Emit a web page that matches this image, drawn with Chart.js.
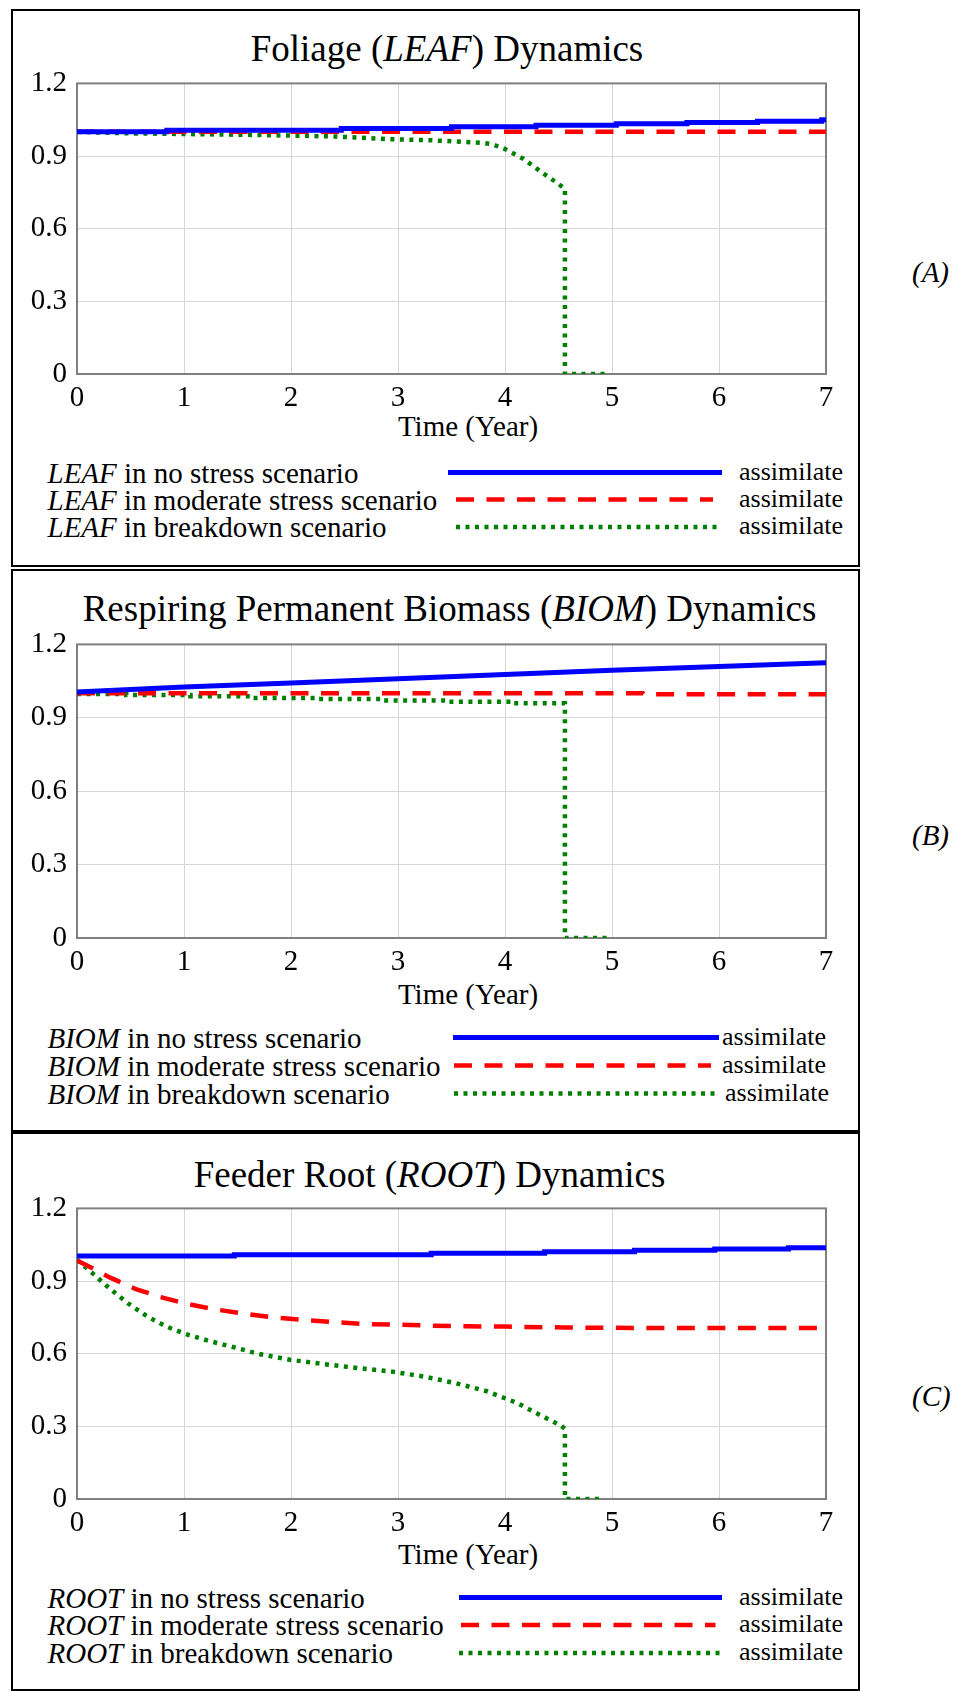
<!DOCTYPE html>
<html><head><meta charset="utf-8">
<script src="https://cdn.jsdelivr.net/npm/chart.js@4.4.1/dist/chart.umd.min.js"></script>
<style>
html,body{margin:0;padding:0;background:#fff;}
#page{position:relative;width:965px;height:1691px;overflow:hidden;font-family:'Liberation Serif','Times New Roman',serif;color:#000;}
.frame{position:absolute;box-sizing:border-box;border:2px solid #000;}
.t{position:absolute;white-space:nowrap;line-height:1;}
canvas{position:absolute;left:0;}
svg{position:absolute;left:0;top:0;}
</style></head><body><div id="page"></div>
<script>
// ---------- DATA ----------
const timeTicks = [0, 1, 2, 3, 4, 5, 6, 7];
const timeTickLabels = ['0', '1', '2', '3', '4', '5', '6', '7'];
const valueTicks = [0, 0.3, 0.6, 0.9, 1.2];
const valueTickLabels = ['0', '0.3', '0.6', '0.9', '1.2'];

const panelVariables = ['LEAF', 'BIOM', 'ROOT'];
const panelTitlesBefore = ['Foliage (', 'Respiring Permanent Biomass (', 'Feeder Root ('];
const panelTitlesAfter = [') Dynamics', ') Dynamics', ') Dynamics'];
const panelTags = ['(A)', '(B)', '(C)'];
const scenarioNames = ['in no stress scenario', 'in moderate stress scenario', 'in breakdown scenario'];
const unitName = 'assimilate';
const axisTitle = 'Time (Year)';

// Panel A: LEAF
const leafNoStressTime  = [0, 0.84, 2.47, 3.5, 4.29, 5.04, 5.7, 6.36, 6.96, 7];
const leafNoStressValue = [1.0, 1.007, 1.014, 1.021, 1.027, 1.033, 1.039, 1.044, 1.05, 1.05];
const leafModerateTime  = [0, 7];
const leafModerateValue = [1.0, 1.0];
const leafBreakdownTime  = [0, 0.46, 1.0, 1.7, 2.4, 2.96, 3.31, 3.77, 3.88, 4.0, 4.17, 4.34, 4.49, 4.56, 4.56, 4.97];
const leafBreakdownValue = [1.0, 0.994, 0.991, 0.987, 0.981, 0.969, 0.965, 0.955, 0.949, 0.929, 0.889, 0.834, 0.788, 0.765, 0, 0];

// Panel B: BIOM
const biomNoStressTime  = [0, 1, 2, 3, 4, 5, 6, 7];
const biomNoStressValue = [1.005, 1.026, 1.042, 1.06, 1.077, 1.094, 1.11, 1.125];
const biomModerateTime  = [0, 5.29, 5.3, 7];
const biomModerateValue = [1.0, 1.0, 0.996, 0.996];
const biomBreakdownTime  = [0, 0.46, 1.06, 1.64, 2.24, 2.85, 3.48, 4.08, 4.56, 4.97];
const biomBreakdownValue = [0.997, 0.993, 0.988, 0.981, 0.977, 0.971, 0.966, 0.959, 0, 0];

// Panel C: ROOT
const rootNoStressTime  = [0, 1.47, 3.31, 4.37, 5.21, 5.96, 6.65, 7];
const rootNoStressValue = [1.003, 1.009, 1.015, 1.021, 1.027, 1.032, 1.038, 1.038];
const rootModerateTime  = [0, 0.14, 0.31, 0.55, 0.78, 1.01, 1.29, 1.58, 1.81, 2.10, 2.39, 2.68, 2.96, 3.31, 3.65, 4.0, 4.57, 5.5, 7];
const rootModerateValue = [0.985, 0.954, 0.914, 0.867, 0.834, 0.807, 0.783, 0.764, 0.751, 0.740, 0.731, 0.722, 0.720, 0.716, 0.713, 0.712, 0.708, 0.706, 0.706];
const rootBreakdownTime  = [0, 0.14, 0.31, 0.48, 0.66, 0.83, 1.01, 1.24, 1.47, 1.70, 1.99, 2.27, 2.62, 2.96, 3.25, 3.54, 3.83, 4.11, 4.34, 4.52, 4.56, 4.56, 4.93];
const rootBreakdownValue = [0.988, 0.934, 0.867, 0.807, 0.753, 0.713, 0.682, 0.652, 0.626, 0.599, 0.575, 0.559, 0.541, 0.525, 0.505, 0.478, 0.445, 0.397, 0.344, 0.304, 0.29, 0, 0];

// ---------- STYLE / LAYOUT ----------
const FONT = "'Liberation Serif','Times New Roman',serif";
const seriesStyles = [
  {color: '#0000ff', width: 5,   dash: []},
  {color: '#ff0000', width: 4.5, dash: [18, 12.5]},
  {color: '#008000', width: 4.5, dash: [4, 5.5]}
];
const panels = [
  {frame: [11, 9, 849, 558], plotTop: 76, plotBottom: 374,
   title: [447, 47.5], axisTitleY: 426, tagY: 272,
   rows: [472.5, 499.5, 527], unitX: [739, 739, 739],
   swatch: [[448, 722], [456, 713], [456, 720]],
   series: [[leafNoStressTime, leafNoStressValue, true], [leafModerateTime, leafModerateValue, false], [leafBreakdownTime, leafBreakdownValue, false]]},
  {frame: [11, 569, 849, 563], plotTop: 637, plotBottom: 938,
   title: [449.5, 607.5], axisTitleY: 994, tagY: 835,
   rows: [1037.5, 1065.5, 1093.5], unitX: [722, 722, 725],
   swatch: [[453, 719], [454, 711], [454, 719]],
   series: [[biomNoStressTime, biomNoStressValue, false], [biomModerateTime, biomModerateValue, false], [biomBreakdownTime, biomBreakdownValue, true]]},
  {frame: [11, 1132, 849, 559], plotTop: 1201, plotBottom: 1499,
   title: [429.5, 1174], axisTitleY: 1554, tagY: 1396,
   rows: [1597.5, 1625, 1653], unitX: [739, 739, 739],
   swatch: [[459, 722], [461, 715.5], [459, 722]],
   series: [[rootNoStressTime, rootNoStressValue, true], [rootModerateTime, rootModerateValue, false], [rootBreakdownTime, rootBreakdownValue, false]]}
];
const PLOT_LEFT = 77, PLOT_RIGHT = 826, CANVAS_W = 870, TOP_PAD = 20, XAXIS_H = 46;

const page = document.getElementById('page');
function addText(html, x, y, size, align, extra) {
  const d = document.createElement('div');
  d.className = 't';
  d.innerHTML = html;
  d.style.left = x + 'px';
  d.style.top = y + 'px';
  d.style.fontSize = size + 'px';
  d.style.transform = (align === 'center' ? 'translate(-50%,-50%)' : 'translate(0,-50%)');
  if (extra) Object.assign(d.style, extra);
  page.appendChild(d);
  return d;
}

const frameBox = {
  id: 'frameBox',
  beforeDatasetsDraw(chart) {
    const {ctx, chartArea: a} = chart;
    ctx.save();
    ctx.strokeStyle = '#808080';
    ctx.lineWidth = 2;
    ctx.strokeRect(a.left, a.top, a.right - a.left, a.bottom - a.top);
    ctx.restore();
  }
};

const svgNS = 'http://www.w3.org/2000/svg';
const svg = document.createElementNS(svgNS, 'svg');
svg.setAttribute('width', 965); svg.setAttribute('height', 1691);

panels.forEach((p, pi) => {
  const f = document.createElement('div');
  f.className = 'frame';
  f.style.left = p.frame[0] + 'px'; f.style.top = p.frame[1] + 'px';
  f.style.width = p.frame[2] + 'px'; f.style.height = p.frame[3] + 'px';
  page.appendChild(f);

  addText(panelTitlesBefore[pi] + '<i>' + panelVariables[pi] + '</i>' + panelTitlesAfter[pi], p.title[0], p.title[1], 37, 'center');
  addText(axisTitle, 468, p.axisTitleY, 29, 'center');
  addText('<i>' + panelTags[pi] + '</i>', 912, p.tagY, 29, 'left');

  scenarioNames.forEach((s, si) => {
    addText('<i>' + panelVariables[pi] + '</i> ' + s, 47.5, p.rows[si], 29, 'left');
    addText(unitName, p.unitX[si], p.rows[si] - 1, 26, 'left');
    const st = seriesStyles[si];
    const ln = document.createElementNS(svgNS, 'line');
    ln.setAttribute('x1', p.swatch[si][0]); ln.setAttribute('x2', p.swatch[si][1]);
    ln.setAttribute('y1', p.rows[si]); ln.setAttribute('y2', p.rows[si]);
    ln.setAttribute('stroke', st.color); ln.setAttribute('stroke-width', st.width);
    if (st.dash.length) ln.setAttribute('stroke-dasharray', st.dash.join(' '));
    svg.appendChild(ln);
  });

  const h = p.plotBottom - p.plotTop + TOP_PAD + XAXIS_H;
  const c = document.createElement('canvas');
  c.width = CANVAS_W; c.height = h;
  c.style.width = CANVAS_W + 'px'; c.style.height = h + 'px';
  c.style.top = (p.plotTop - TOP_PAD) + 'px';
  page.appendChild(c);

  const gridOpts = {color: '#d6d6d6', lineWidth: 1, drawTicks: false};
  new Chart(c, {
    type: 'line',
    data: {
      datasets: p.series.map((s, si) => ({
        data: s[0].map((t, i) => ({x: t, y: s[1][i]})),
        borderColor: seriesStyles[si].color,
        borderWidth: seriesStyles[si].width,
        borderDash: seriesStyles[si].dash,
        stepped: s[2],
        pointRadius: 0, fill: false, tension: 0
      }))
    },
    options: {
      responsive: false, animation: false, events: [],
      layout: {autoPadding: false, padding: {left: 0, right: CANVAS_W - PLOT_RIGHT, top: TOP_PAD, bottom: 0}},
      plugins: {legend: {display: false}, tooltip: {enabled: false}},
      scales: {
        x: {
          type: 'linear', min: 0, max: 7,
          afterBuildTicks: s => { s.ticks = timeTicks.map(v => ({value: v})); },
          ticks: {font: {family: FONT, size: 29}, color: '#000', padding: 7, maxRotation: 0, autoSkip: false,
                  callback: (v, i) => timeTickLabels[i]},
          grid: gridOpts, border: {display: false},
          afterFit: s => { s.height = XAXIS_H; }
        },
        y: {
          type: 'linear', min: 0, max: 1.2,
          afterBuildTicks: s => { s.ticks = valueTicks.map(v => ({value: v})); },
          ticks: {font: {family: FONT, size: 29}, color: '#000', padding: 10, autoSkip: false,
                  callback: (v, i) => valueTickLabels[i]},
          grid: gridOpts, border: {display: false},
          afterFit: s => { s.width = PLOT_LEFT; }
        }
      }
    },
    plugins: [frameBox]
  });
});
page.appendChild(svg);
</script></body></html>
